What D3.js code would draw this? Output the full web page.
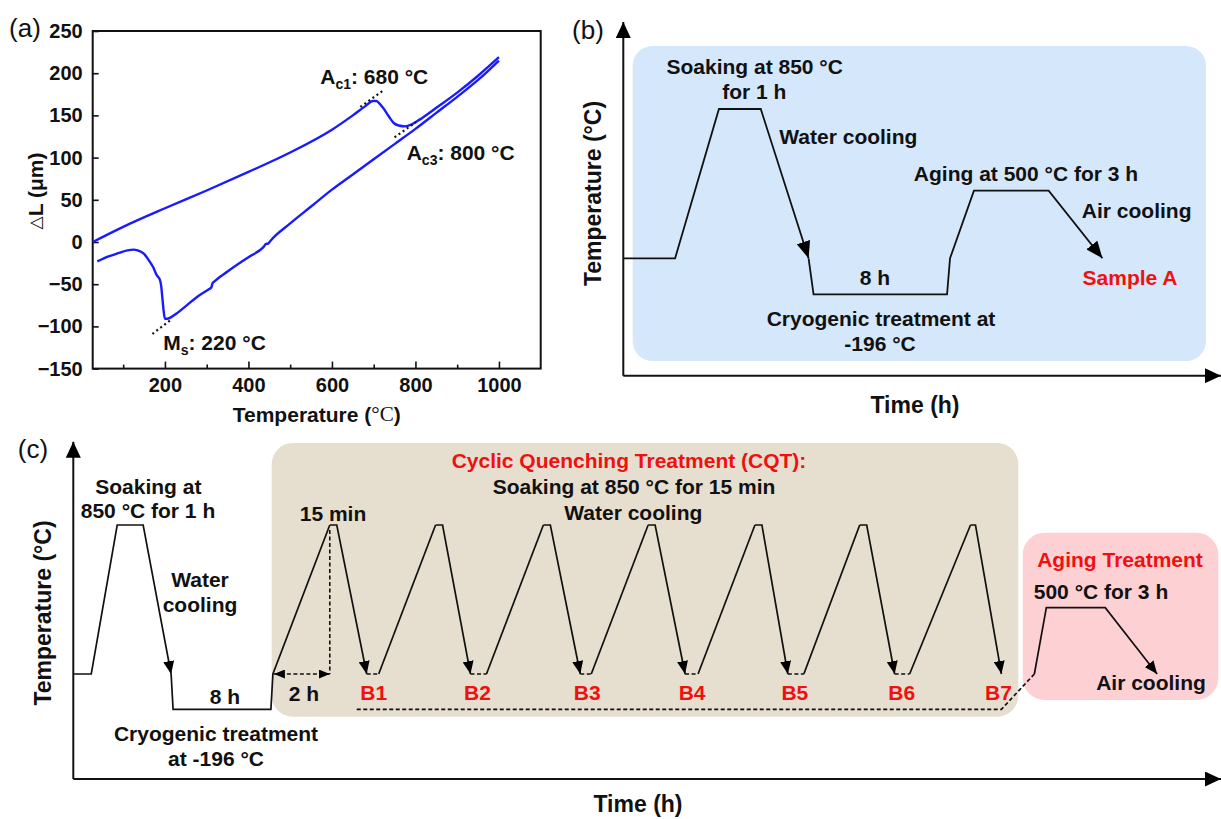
<!DOCTYPE html>
<html>
<head>
<meta charset="utf-8">
<script src="https://cdn.jsdelivr.net/npm/d3@7"></script>
<style>
body { margin: 0; background: #fff; }
svg { display: block; font-family: "Liberation Sans", Arial, sans-serif; }
</style>
</head>
<body>
<svg id="fig" width="1221" height="819"></svg>
<script>
// ---- (a) dilatometric curve ----
var heatT  = [27, 100, 200, 300, 400, 500, 600, 650, 680, 698, 706, 714, 724, 736, 748, 760, 775, 790, 810, 850, 900, 950, 1000]
var heatDL = [0, 18, 40, 61, 83, 106, 133, 150, 161, 167, 167, 164, 158, 149, 141, 138, 137, 139, 145, 159, 177, 197, 219]
var coolT  = [38, 65, 90, 110, 125, 135, 150, 162, 172, 180, 188, 191, 194, 197, 200, 205, 215, 230, 250, 280, 305, 311, 314, 318, 350, 400, 436, 443, 447, 452, 500, 550, 600, 650, 700, 750, 800, 850, 900, 950, 1000]
var coolDL = [-23, -17, -13, -10, -9, -10, -14, -22, -30, -39, -45, -52, -67, -82, -91, -91, -89, -84, -76, -64, -56, -54, -49, -47, -35, -18, -6, -2, -2, 1, 22, 42, 62, 80, 98, 116, 134, 153, 172, 192, 215]
var xTicksA = [200, 400, 600, 800, 1000]
var xMinorA = [100, 300, 500, 700, 900]
var yTicksA = [-150, -100, -50, 0, 50, 100, 150, 200, 250]
var tangentMs  = [[170, -109], [212, -93]]
var tangentAc1 = [[668, 160], [724, 180]]
var tangentAc3 = [[750, 124], [801, 142]]

// ---- (b) heat treatment of sample A (time in arbitrary units, temperature in °C) ----
var bQuenchT = [0, 5.2, 9.6, 13.8, 18.6]
var bQuenchC = [25, 25, 850, 850, 25]
var bRestT = [18.6, 19.1, 32.5, 32.8, 35.2, 42.7, 48.1]
var bRestC = [25, -196, -196, 25, 500, 500, 25]

// ---- (c) cyclic quenching treatment ----
var cQuenchT = [0, 1.8, 4.4, 7.0, 9.8]
var cQuenchC = [25, 25, 850, 850, 25]
var cCryoT = [9.8, 10.0, 19.8, 20.0, 25.7]
var cCryoC = [25, -196, -196, 25, 850]
var peakStart = [25.7, 36.3, 47.1, 57.6, 68.3, 78.8, 89.9]
var peakEnd   = [26.4, 37.0, 47.8, 58.3, 69.0, 79.5, 90.4]
var quenchEnd = [29.4, 39.8, 50.8, 61.3, 71.6, 82.3, 93.0]
var holdEnd   = [30.6, 41.4, 51.9, 62.6, 73.2, 83.8]
var sampleNames = ['B1', 'B2', 'B3', 'B4', 'B5', 'B6', 'B7']
var cLinkT = [28.4, 93.0, 96.3]
var cLinkC = [-196, -196, 25]
var cAgingT = [96.3, 97.5, 103.4, 108.6]
var cAgingC = [25, 500, 500, 25]
var dimT = [20.1, 25.7]

var tempLevels = [-196, 25, 500, 850]

var svg = d3.select('#fig')
var defs = svg.append('defs')

function marker(id, len, wid) {
    defs.append('marker')
        .attr('id', id)
        .attr('viewBox', '0 ' + (-wid / 2) + ' ' + len + ' ' + wid)
        .attr('refX', len).attr('refY', 0)
        .attr('markerUnits', 'userSpaceOnUse')
        .attr('markerWidth', len).attr('markerHeight', wid)
        .attr('orient', 'auto-start-reverse')
        .append('path')
        .attr('d', 'M0,' + (-wid / 2) + 'L' + len + ',0L0,' + (wid / 2) + 'Z')
        .attr('fill', '#000')
}
marker('axisHead', 16, 15)
marker('headB', 17, 14)
marker('headC', 13, 11)
marker('headDim', 11, 9)

function text(g, x, y, str, opt) {
    opt = opt || {}
    return g.append('text')
        .attr('x', x).attr('y', y)
        .attr('text-anchor', opt.anchor || 'middle')
        .attr('dominant-baseline', 'central')
        .attr('font-size', opt.size || 21)
        .attr('font-weight', opt.weight || 'bold')
        .attr('fill', opt.color || '#111')
        .text(str)
}

function vtext(g, x, y, str, size) {
    return g.append('text')
        .attr('transform', 'translate(' + x + ',' + y + ') rotate(-90)')
        .attr('text-anchor', 'middle')
        .attr('dominant-baseline', 'central')
        .attr('font-size', size)
        .attr('font-weight', 'bold')
        .attr('fill', '#111')
        .text(str)
}

// ================= panel (a) =================
var xA = d3.scaleLinear().domain([27, 1100]).range([92.7, 540.7])
var yA = d3.scaleLinear().domain([-150, 250]).range([368.6, 31])
var gA = svg.append('g')

gA.append('rect')
    .attr('x', xA.range()[0]).attr('y', yA.range()[1])
    .attr('width', xA.range()[1] - xA.range()[0])
    .attr('height', yA.range()[0] - yA.range()[1])
    .attr('fill', 'none').attr('stroke', '#111').attr('stroke-width', 2)

gA.append('g')
    .attr('transform', 'translate(0,' + yA.range()[0] + ')')
    .call(d3.axisBottom(xA).tickValues(xTicksA).tickFormat(d3.format('d'))
        .tickSize(-7).tickSizeOuter(0).tickPadding(9))
gA.append('g')
    .attr('transform', 'translate(0,' + yA.range()[0] + ')')
    .call(d3.axisBottom(xA).tickValues(xMinorA).tickSize(-4).tickSizeOuter(0).tickFormat(''))
gA.append('g')
    .attr('transform', 'translate(' + xA.range()[0] + ',0)')
    .call(d3.axisLeft(yA).tickValues(yTicksA).tickSize(-6).tickSizeOuter(0).tickPadding(10))

gA.selectAll('.domain').attr('stroke', 'none')
gA.selectAll('.tick line').attr('stroke', '#111').attr('stroke-width', 1.6)
gA.selectAll('g').attr('font-family', null).attr('font-size', 20).attr('font-weight', 'bold')
gA.selectAll('.tick text').attr('fill', '#111')

var lineA = d3.line().x(d => xA(d[0])).y(d => yA(d[1])).curve(d3.curveMonotoneX)
gA.append('path').datum(d3.zip(heatT, heatDL))
    .attr('d', lineA).attr('fill', 'none').attr('stroke', '#1a1aff').attr('stroke-width', 2.4)
gA.append('path').datum(d3.zip(coolT, coolDL))
    .attr('d', lineA).attr('fill', 'none').attr('stroke', '#1a1aff').attr('stroke-width', 2.4)

var straight = d3.line().x(d => xA(d[0])).y(d => yA(d[1]))
;[tangentMs, tangentAc1, tangentAc3].forEach(function(t) {
    gA.append('path').datum(t).attr('d', straight)
        .attr('fill', 'none').attr('stroke', '#111').attr('stroke-width', 2.2)
        .attr('stroke-dasharray', '2,3')
})

function phaseLabel(T, V, main, sub, rest) {
    var t = gA.append('text')
        .attr('x', xA(T)).attr('y', yA(V))
        .attr('font-size', 21).attr('font-weight', 'bold').attr('fill', '#111')
    t.append('tspan').text(main)
    t.append('tspan').attr('font-size', 14).attr('dy', 5).text(sub)
    t.append('tspan').attr('dy', -5).text(rest)
}
phaseLabel(572, 187, 'A', 'c1', ': 680 °C')
phaseLabel(779, 97, 'A', 'c3', ': 800 °C')
phaseLabel(196, -128, 'M', 's', ': 220 °C')

var xtA = text(gA, 316.7, 414, 'Temperature (', {})
xtA.append('tspan').attr('font-family', '"Liberation Serif", serif').attr('font-weight', 'normal').text('°C')
xtA.append('tspan').text(')')
var ytA = gA.append('text')
    .attr('transform', 'translate(35,191) rotate(-90)')
    .attr('text-anchor', 'middle').attr('dominant-baseline', 'central')
    .attr('font-size', 21).attr('font-weight', 'bold').attr('fill', '#111')
ytA.append('tspan').attr('font-weight', 'normal').attr('font-family', '"DejaVu Sans", sans-serif').attr('font-size', 17).text('△')
ytA.append('tspan').text('L (μm)')
text(gA, 25, 28, '(a)', { size: 26, weight: 'normal' })

// ================= panel (b) =================
var xB = d3.scaleLinear().domain([0, 60]).range([623.3, 1221])
var yB = d3.scaleLinear().domain(tempLevels).range([294.3, 258.3, 190.7, 109])
var gB = svg.append('g')
var axisB = { base: 375.7, top: 22 }

gB.append('rect')
    .attr('x', 632.7).attr('y', 46).attr('width', 573.3).attr('height', 315)
    .attr('rx', 20).attr('fill', '#d5e7fa')

gB.append('line')
    .attr('x1', xB(0)).attr('y1', axisB.base).attr('x2', xB(0)).attr('y2', axisB.top)
    .attr('stroke', '#111').attr('stroke-width', 2).attr('marker-end', 'url(#axisHead)')
gB.append('line')
    .attr('x1', xB(0)).attr('y1', axisB.base).attr('x2', xB.range()[1]).attr('y2', axisB.base)
    .attr('stroke', '#111').attr('stroke-width', 2).attr('marker-end', 'url(#axisHead)')

var lineB = d3.line().x(d => xB(d[0])).y(d => yB(d[1]))
gB.append('path').datum(d3.zip(bQuenchT, bQuenchC)).attr('d', lineB)
    .attr('fill', 'none').attr('stroke', '#111').attr('stroke-width', 1.8).attr('marker-end', 'url(#headB)')
gB.append('path').datum(d3.zip(bRestT, bRestC)).attr('d', lineB)
    .attr('fill', 'none').attr('stroke', '#111').attr('stroke-width', 1.8).attr('marker-end', 'url(#headB)')

text(gB, 754.7, 66.7, 'Soaking at 850 °C')
text(gB, 754.3, 91.7, 'for 1 h')
text(gB, 779.3, 136, 'Water cooling', { anchor: 'start' })
text(gB, 875, 277.7, '8 h')
text(gB, 881, 318.3, 'Cryogenic treatment at')
text(gB, 880, 343.3, '-196 °C')
text(gB, 1026, 173.3, 'Aging at 500 °C for 3 h')
text(gB, 1136.7, 210.7, 'Air cooling')
text(gB, 1130, 277.3, 'Sample A', { color: '#f01010' })
text(gB, 915, 405, 'Time (h)', { size: 23 })
vtext(gB, 593.3, 193.5, 'Temperature (°C)', 23)
text(gB, 588, 30, '(b)', { size: 26, weight: 'normal' })

// ================= panel (c) =================
var xC = d3.scaleLinear().domain([0, 115]).range([73.3, 1221])
var yC = d3.scaleLinear().domain(tempLevels).range([709.3, 674, 607.7, 525])
var gC = svg.append('g')
var axisC = { base: 779, top: 441.7 }

gC.append('rect')
    .attr('x', 271.7).attr('y', 443).attr('width', 746.6).attr('height', 273.7)
    .attr('rx', 21).attr('fill', '#e6dfcf')
gC.append('rect')
    .attr('x', 1022.7).attr('y', 532.7).attr('width', 195.6).attr('height', 167.3)
    .attr('rx', 22).attr('fill', '#fdd0d4')

gC.append('line')
    .attr('x1', xC(0)).attr('y1', axisC.base).attr('x2', xC(0)).attr('y2', axisC.top)
    .attr('stroke', '#111').attr('stroke-width', 2).attr('marker-end', 'url(#axisHead)')
gC.append('line')
    .attr('x1', xC(0)).attr('y1', axisC.base).attr('x2', xC.range()[1]).attr('y2', axisC.base)
    .attr('stroke', '#111').attr('stroke-width', 2).attr('marker-end', 'url(#axisHead)')

var lineC = d3.line().x(d => xC(d[0])).y(d => yC(d[1]))
function solid(pts, head) {
    var p = gC.append('path').datum(pts).attr('d', lineC)
        .attr('fill', 'none').attr('stroke', '#111').attr('stroke-width', 1.7)
    if (head) p.attr('marker-end', 'url(#' + head + ')')
    return p
}
function dashed(pts) {
    return gC.append('path').datum(pts).attr('d', lineC)
        .attr('fill', 'none').attr('stroke', '#111').attr('stroke-width', 1.7)
        .attr('stroke-dasharray', '4,2.5')
}

solid(d3.zip(cQuenchT, cQuenchC), 'headC')
solid(d3.zip(cCryoT, cCryoC))
peakStart.forEach(function(t0, i) {
    solid([[t0, 850], [peakEnd[i], 850], [quenchEnd[i], 25]], 'headC')
    if (i < holdEnd.length) {
        dashed([[quenchEnd[i], 25], [holdEnd[i], 25]])
        solid([[holdEnd[i], 25], [peakStart[i + 1], 850]])
    }
    text(gC, xC(quenchEnd[i]) + (i === 6 ? -3 : 7), 692.7, sampleNames[i], { color: '#f01010' })
})
dashed(d3.zip(cLinkT, cLinkC))
solid(d3.zip(cAgingT, cAgingC), 'headC')

// 2 h dimension
gC.append('line')
    .attr('x1', xC(dimT[1])).attr('y1', yC(850) + 5).attr('x2', xC(dimT[1])).attr('y2', yC(25))
    .attr('stroke', '#111').attr('stroke-width', 1.6).attr('stroke-dasharray', '4,2.5')
gC.append('line')
    .attr('x1', xC(dimT[0])).attr('y1', yC(25)).attr('x2', xC(dimT[1])).attr('y2', yC(25))
    .attr('stroke', '#111').attr('stroke-width', 1.6).attr('stroke-dasharray', '4,2.5')
    .attr('marker-start', 'url(#headDim)').attr('marker-end', 'url(#headDim)')

text(gC, 148.3, 486.7, 'Soaking at')
text(gC, 148, 510.7, '850 °C for 1 h')
text(gC, 200, 579.3, 'Water')
text(gC, 200, 604, 'cooling')
text(gC, 225, 696, '8 h')
text(gC, 216, 733.3, 'Cryogenic treatment')
text(gC, 216, 758.3, 'at -196 °C')
text(gC, 304, 693.3, '2 h')
text(gC, 333, 513.3, '15 min')
text(gC, 629, 460, 'Cyclic Quenching Treatment (CQT):', { color: '#f01010' })
text(gC, 634, 486.7, 'Soaking at 850 °C for 15 min')
text(gC, 633.3, 512.7, 'Water cooling')
text(gC, 1120, 559.3, 'Aging Treatment', { color: '#f01010' })
text(gC, 1101, 591, '500 °C for 3 h')
text(gC, 1151, 682.3, 'Air cooling')
text(gC, 638, 804, 'Time (h)', { size: 23 })
vtext(gC, 43.3, 613, 'Temperature (°C)', 23)
text(gC, 33, 449.3, '(c)', { size: 26, weight: 'normal' })
</script>
</body>
</html>
